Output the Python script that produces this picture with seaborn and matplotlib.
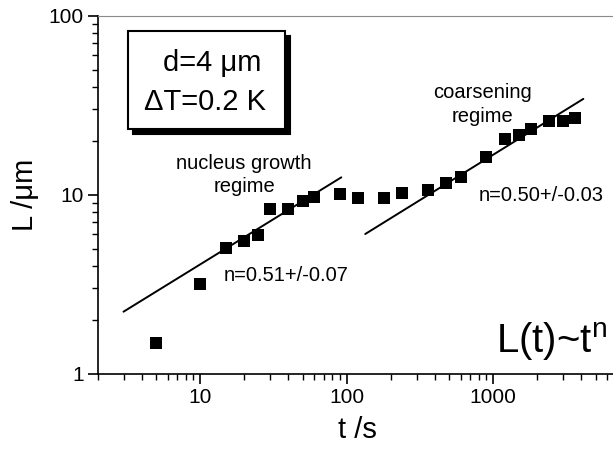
import numpy as np
import pandas as pd
import seaborn as sns
import matplotlib
matplotlib.use("Agg")
import matplotlib.pyplot as plt
from matplotlib.patches import Rectangle
from matplotlib.ticker import LogLocator, NullFormatter

# ---- data ----
t_s = [5, 10, 15, 20, 25, 30, 40, 50, 60, 90, 120, 180, 240, 360, 480, 600,
       900, 1200, 1500, 1800, 2400, 3000, 3600]
L_um = [1.48, 3.16, 5.06, 5.53, 5.98, 8.29, 8.29, 9.26, 9.67, 10.1, 9.62, 9.62,
        10.2, 10.6, 11.6, 12.6, 16.3, 20.4, 21.6, 23.2, 25.9, 25.9, 26.7]

# fitted power-law lines (end points)
fit_nucleus_t = [3, 92]
fit_nucleus_L = [2.22, 12.5]
fit_coarse_t = [134, 4130]
fit_coarse_L = [6.03, 34.3]

x_ticks = [10, 100, 1000]
x_tick_labels = ["10", "100", "1000"]
y_ticks = [1, 10, 100]
y_tick_labels = ["1", "10", "100"]

sns.set_style("ticks")
plt.rcParams["font.family"] = ["Liberation Sans", "DejaVu Sans"]
plt.rcParams["mathtext.default"] = "regular"
plt.rcParams["text.color"] = "black"
plt.rcParams["axes.labelcolor"] = "black"

fig = plt.figure(figsize=(6.13, 4.51), dpi=100)
ax = fig.add_axes([0.1594, 0.1714, 0.884, 0.7938])

df = pd.DataFrame({"t": t_s, "L": L_um})
sns.scatterplot(data=df, x="t", y="L", marker="s", s=85, color="black",
                linewidth=0, ax=ax, zorder=3)
sns.lineplot(x=fit_nucleus_t, y=fit_nucleus_L, color="black", lw=1.4, ax=ax)
sns.lineplot(x=fit_coarse_t, y=fit_coarse_L, color="black", lw=1.4, ax=ax)

ax.set_xscale("log")
ax.set_yscale("log")
ax.set_xlim(2, 10000)
ax.set_ylim(1, 100)

ax.set_xticks(x_ticks, labels=x_tick_labels)
ax.set_yticks(y_ticks, labels=y_tick_labels)
ax.xaxis.set_minor_locator(LogLocator(base=10, subs=np.arange(2, 10)))
ax.yaxis.set_minor_locator(LogLocator(base=10, subs=np.arange(2, 10)))
ax.xaxis.set_minor_formatter(NullFormatter())
ax.yaxis.set_minor_formatter(NullFormatter())

ax.tick_params(which="major", direction="out", length=7, width=1.2,
               labelsize=15, pad=3, colors="black")
ax.tick_params(which="minor", direction="out", length=4, width=1.0,
               colors="black")
ax.tick_params(top=False, right=False)

for s in ["left", "bottom"]:
    ax.spines[s].set_color("black")
    ax.spines[s].set_linewidth(1.2)
ax.spines["top"].set_visible(True)
ax.spines["top"].set_color("#8a8a8a")
ax.spines["top"].set_linewidth(0.8)
ax.spines["right"].set_visible(False)

ax.set_xlabel("t /s", fontsize=21, color="black")
ax.set_ylabel("L /\u03bcm", fontsize=21, color="black")
ax.xaxis.set_label_coords(0.4785, -0.118)
ax.yaxis.set_label_coords(-0.108, 0.5)

# info box with shadow
ax.add_patch(Rectangle((0.0646, 0.6687), 0.2902, 0.2746, transform=ax.transAxes,
                       facecolor="black", edgecolor="black", lw=1.5,
                       clip_on=False, zorder=4))
ax.add_patch(Rectangle((0.0554, 0.6827), 0.2902, 0.2746, transform=ax.transAxes,
                       facecolor="white", edgecolor="black", lw=1.5,
                       clip_on=False, zorder=5))
ax.text(0.2104, 0.867, "d=4 \u03bcm", transform=ax.transAxes, fontsize=21,
        ha="center", va="center", zorder=6, color="black")
ax.text(0.198, 0.760, "\u0394T=0.2 K", transform=ax.transAxes, fontsize=21,
        ha="center", va="center", zorder=6, color="black")

ax.text(20, 12.9, "nucleus growth\nregime", fontsize=14.5, ha="center",
        va="center", linespacing=1.3, color="black")
ax.text(841, 31.9, "coarsening\nregime", fontsize=14.5, ha="center",
        va="center", linespacing=1.3, color="black")
ax.text(38.6, 3.53, "n=0.51+/-0.07", fontsize=14.5, ha="center", va="center",
        color="black")
ax.text(2142, 9.96, "n=0.50+/-0.03", fontsize=14.5, ha="center", va="center",
        color="black")
ax.text(6000, 1.305, "L(t)~t$^n$", fontsize=29, ha="right", va="baseline",
        color="black")

fig.savefig("out.png", dpi=100)
